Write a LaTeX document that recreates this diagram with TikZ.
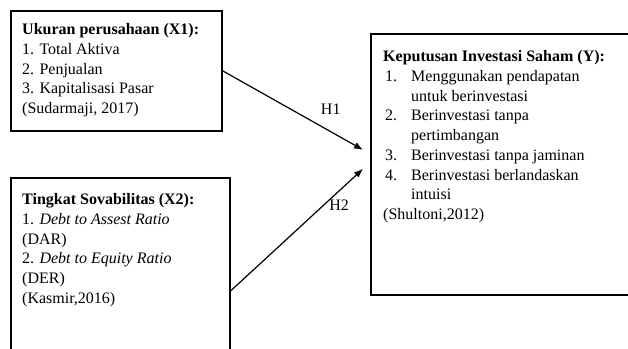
\documentclass[tikz,border=0pt]{standalone}
\usepackage{fontspec}
\setmainfont{Liberation Serif}
\usepackage{tikz}
\usetikzlibrary{calc,arrows.meta,shadows,positioning}

\begin{document}
\begin{tikzpicture}[x=1pt,y=-1pt,
    panel/.style={draw, line width=1.7pt, fill=white, minimum width=#1, anchor=north west,
      drop shadow={shadow xshift=1.2pt, shadow yshift=-1.2pt, opacity=1, fill=black}},
    txt/.style={inner sep=0pt, anchor=north west, align=left,
      font=\fontsize{16}{19.7}\selectfont},
    link/.style={line width=1.2pt, -{Latex[length=9pt,width=7pt]}}]
  \useasboundingbox (0,0) rectangle (628,348);
  \clip (0,0) rectangle (628,348);
  \fill[white] (0,0) rectangle (628,348);
  \def\gap{\makebox[26pt][l]}
  \begin{scope}
    \node[panel=211pt, minimum height=120pt] (x1box) at (10,10) {};
    \node[panel=219pt, minimum height=226pt] (x2box) at (10,177) {};
    \node[panel=270pt, minimum height=261pt] (ybox) at (370,33) {};

    \node[txt] (x1txt) at ([shift={(12,13.5)}]x1box.north west)
      {\textbf{Ukuran perusahaan (X1):}\\1. Total Aktiva\\2. Penjualan\\
       3. Kapitalisasi Pasar\\(Sudarmaji, 2017)};
    \node[txt] (x2txt) at ([shift={(12,16.5)}]x2box.north west)
      {\textbf{Tingkat Sovabilitas (X2):}\\1. \textit{Debt to Assest Ratio}\\(DAR)\\
       2. \textit{Debt to Equity Ratio}\\(DER)\\(Kasmir,2016)};
    \node[txt] (ytxt) at ([shift={(13,17.5)}]ybox.north west)
      {\textbf{Keputusan Investasi Saham (Y):}\\
       \hspace*{2pt}\gap{1.}Menggunakan pendapatan\\
       \hspace*{28pt}untuk berinvestasi\\
       \hspace*{2pt}\gap{2.}Berinvestasi tanpa\\
       \hspace*{28pt}pertimbangan\\
       \hspace*{2pt}\gap{3.}Berinvestasi tanpa jaminan\\
       \hspace*{2pt}\gap{4.}Berinvestasi berlandaskan\\
       \hspace*{28pt}intuisi\\
       (Shultoni,2012)};

    \coordinate (h1tip) at ([shift={(-7,-14.5)}]ybox.west);
    \coordinate (h2tip) at ([shift={(-7,4.5)}]ybox.west);
    \draw[link] (x1box.east) -- (h1tip)
      node[pos=0.77, above=13pt, font=\fontsize{16}{19}\selectfont] (h1) {H1};
    \draw[link] (x2box.east) -- (h2tip)
      node[pos=0.82, below=5pt, font=\fontsize{16}{19}\selectfont] (h2) {H2};
  \end{scope}
\end{tikzpicture}
\end{document}
